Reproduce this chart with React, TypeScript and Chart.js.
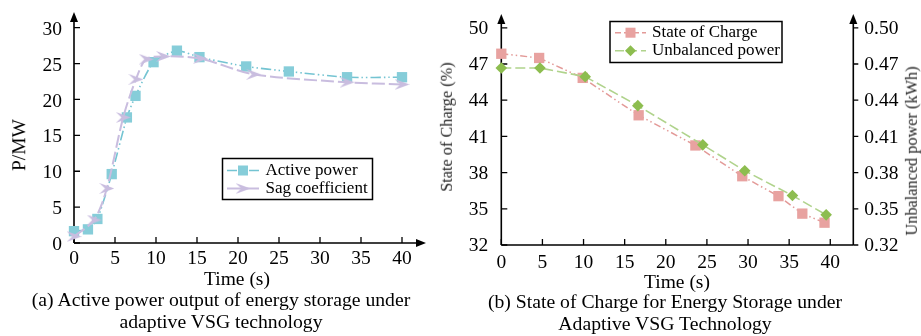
import React, { useEffect, useRef } from "react";
import { Chart, registerables } from "chart.js";

Chart.register(...registerables);

// ---------- data (left chart) ----------
const activeTime = [0, 1.7, 2.85, 4.6, 6.45, 7.5, 9.7, 12.55, 15.3, 21, 26.2, 33.3, 40];
const activePower = [1.65, 1.9, 3.35, 9.6, 17.5, 20.5, 25.2, 26.8, 25.9, 24.6, 23.9, 23.1, 23.1];
const sagTime = [0, 2.45, 4.0, 6.0, 7.55, 8.8, 10.9, 15.4, 21.9, 33.3, 40];
const sagCoef = [0.9, 3.2, 7.6, 17.5, 22.8, 25.6, 26.0, 25.7, 23.5, 22.4, 22.1];
const xTicksA = [0, 5, 10, 15, 20, 25, 30, 35, 40];
const yTicksA = [0, 5, 10, 15, 20, 25, 30];

// ---------- data (right chart) ----------
const socTime = [0, 4.6, 9.9, 16.7, 23.6, 29.3, 33.7, 36.6, 39.3];
const socValue = [47.85, 47.5, 45.85, 42.75, 40.25, 37.7, 36.05, 34.6, 33.85];
const ubTime = [0, 4.7, 10.2, 16.6, 24.5, 29.6, 35.4, 39.5];
const ubValue = [0.4667, 0.4667, 0.4595, 0.4355, 0.403, 0.3815, 0.361, 0.345];
const xTicksB = [0, 5, 10, 15, 20, 25, 30, 35, 40];
const yTicksB = [32, 35, 38, 41, 44, 47, 50];
const y2TicksB = [0.32, 0.35, 0.38, 0.41, 0.44, 0.47, 0.5];

const FONT = '"Liberation Serif", "Times New Roman", Times, serif';

const C_ACTIVE = "#86cdd9";
const C_ACTIVE_LINE = "#74c4d2";
const C_SAG = "#c9bddf";
const C_SOC = "#e8a2a0";
const C_SOC_LINE = "#e39a98";
const C_UB = "#8dbd4f";
const C_UB_LINE = "#b0d38c";

const DASH_ACTIVE = [10, 3, 1.5, 3, 1.5, 3];
const DASH_SAG = [13, 4];
const DASH_SOC = [7, 3, 1.5, 3, 1.5, 3];
const DASH_UB = [10, 4];

function makeArrow(color: string) {
  const w = 15, h = 11;
  const c = document.createElement("canvas");
  c.width = w;
  c.height = h;
  const ctx = c.getContext("2d")!;
  ctx.fillStyle = color;
  ctx.beginPath();
  ctx.moveTo(0, 0);
  ctx.lineTo(w, h / 2);
  ctx.lineTo(0, h);
  ctx.lineTo(w * 0.38, h / 2);
  ctx.closePath();
  ctx.fill();
  return c;
}

function pts(xs: number[], ys: number[]) {
  return xs.map((x, i) => ({ x, y: ys[i] }));
}

function setTicks(vals: number[]) {
  return (s: any) => {
    s.ticks = vals.map((v) => ({ value: v }));
  };
}

function arrowUp(ctx: CanvasRenderingContext2D, x: number, tipY: number) {
  ctx.beginPath();
  ctx.moveTo(x, tipY);
  ctx.lineTo(x - 4, tipY + 10);
  ctx.lineTo(x + 4, tipY + 10);
  ctx.closePath();
  ctx.fill();
}
function arrowRight(ctx: CanvasRenderingContext2D, tipX: number, y: number) {
  ctx.beginPath();
  ctx.moveTo(tipX, y);
  ctx.lineTo(tipX - 10, y - 4);
  ctx.lineTo(tipX - 10, y + 4);
  ctx.closePath();
  ctx.fill();
}

function drawMarker(ctx: CanvasRenderingContext2D, kind: string, x: number, y: number, color: string, img?: HTMLCanvasElement) {
  ctx.save();
  ctx.fillStyle = color;
  ctx.setLineDash([]);
  if (kind === "rect") {
    ctx.fillRect(x - 5, y - 5, 10, 10);
  } else if (kind === "diamond") {
    ctx.beginPath();
    ctx.moveTo(x, y - 5.5);
    ctx.lineTo(x + 5.5, y);
    ctx.lineTo(x, y + 5.5);
    ctx.lineTo(x - 5.5, y);
    ctx.closePath();
    ctx.fill();
  } else if (img) {
    ctx.drawImage(img, x - img.width / 2, y - img.height / 2);
  }
  ctx.restore();
}

type LegendItem = { text: string; line: string; dash: number[]; marker: string; mcolor: string; img?: HTMLCanvasElement; lw: number };

function legendPlugin(id: string, box: { x: number; y: number; w: number; h: number }, rows: number[], sx0: number, sx1: number, tx: number, items: LegendItem[]) {
  return {
    id,
    afterDraw(chart: any) {
      const ctx: CanvasRenderingContext2D = chart.ctx;
      ctx.save();
      ctx.fillStyle = "#fff";
      ctx.fillRect(box.x, box.y, box.w, box.h);
      ctx.strokeStyle = "#000";
      ctx.lineWidth = 1.5;
      ctx.setLineDash([]);
      ctx.strokeRect(box.x, box.y, box.w, box.h);
      items.forEach((it, i) => {
        const y = rows[i];
        ctx.strokeStyle = it.line;
        ctx.lineWidth = it.lw;
        ctx.setLineDash(it.dash);
        ctx.beginPath();
        ctx.moveTo(sx0, y);
        ctx.lineTo(sx1, y);
        ctx.stroke();
        drawMarker(ctx, it.marker, (sx0 + sx1) / 2, y, it.mcolor, it.img);
        ctx.fillStyle = "#000";
        ctx.font = `17px ${FONT}`;
        ctx.textBaseline = "middle";
        ctx.textAlign = "left";
        ctx.fillText(it.text, tx, y);
      });
      ctx.restore();
    },
  };
}

function LeftChart() {
  const ref = useRef<HTMLCanvasElement>(null);
  useEffect(() => {
    const arrowImg = makeArrow(C_SAG);
    const axes = {
      id: "axesA",
      beforeDatasetsDraw(chart: any) {
        const { ctx, chartArea, scales } = chart;
        const { left, bottom } = chartArea;
        ctx.save();
        ctx.strokeStyle = "#000";
        ctx.fillStyle = "#000";
        ctx.lineWidth = 1.6;
        ctx.beginPath();
        ctx.moveTo(left, bottom);
        ctx.lineTo(left, 20);
        ctx.moveTo(left, bottom);
        ctx.lineTo(418, bottom);
        ctx.stroke();
        arrowUp(ctx, left, 12);
        arrowRight(ctx, 426, bottom);
        ctx.lineWidth = 1.3;
        ctx.beginPath();
        yTicksA.forEach((v) => {
          const py = scales.y.getPixelForValue(v);
          ctx.moveTo(left, py);
          ctx.lineTo(left + 6, py);
        });
        xTicksA.forEach((v) => {
          const px = scales.x.getPixelForValue(v);
          ctx.moveTo(px, bottom);
          ctx.lineTo(px, bottom - 6);
        });
        ctx.stroke();
        ctx.restore();
      },
    };
    const legend = legendPlugin(
      "legendA",
      { x: 222.5, y: 158.5, w: 150, h: 41 },
      [170.5, 188.5],
      227,
      259,
      265.5,
      [
        { text: "Active power", line: C_ACTIVE_LINE, dash: DASH_ACTIVE, marker: "rect", mcolor: C_ACTIVE, lw: 1.6 },
        { text: "Sag coefficient", line: C_SAG, dash: [], marker: "img", mcolor: C_SAG, img: arrowImg, lw: 2 },
      ]
    );
    const chart = new Chart(ref.current!, {
      type: "line",
      data: {
        datasets: [
          {
            label: "Sag coefficient",
            data: pts(sagTime, sagCoef),
            borderColor: C_SAG,
            backgroundColor: C_SAG,
            borderWidth: 2,
            borderDash: DASH_SAG,
            pointStyle: arrowImg as any,
            pointRadius: 6,
            tension: 0.3,
            clip: false as any,
          },
          {
            label: "Active power",
            data: pts(activeTime, activePower),
            borderColor: C_ACTIVE_LINE,
            backgroundColor: C_ACTIVE,
            borderWidth: 1.6,
            borderDash: DASH_ACTIVE,
            pointStyle: "rect",
            pointRadius: 7.3,
            pointBorderWidth: 0,
            tension: 0.2,
            clip: false as any,
          },
        ],
      },
      options: {
        animation: false,
        responsive: false,
        events: [],
        layout: { padding: { top: 27.7, right: 58, bottom: 63, left: 0 } },
        plugins: { legend: { display: false }, tooltip: { enabled: false } },
        scales: {
          x: {
            type: "linear",
            min: 0,
            max: 40,
            afterBuildTicks: setTicks(xTicksA),
            afterFit: (s: any) => {
              s.height = 30;
            },
            grid: { display: false, drawTicks: false },
            border: { display: false },
            ticks: { padding: 4, color: "#000", font: { family: FONT, size: 19.5 }, maxRotation: 0, autoSkip: false },
          },
          y: {
            type: "linear",
            min: 0,
            max: 30,
            afterBuildTicks: setTicks(yTicksA),
            afterFit: (s: any) => {
              s.width = 74;
            },
            grid: { display: false, drawTicks: false },
            border: { display: false },
            ticks: { padding: 12, labelOffset: 2, color: "#000", font: { family: FONT, size: 19.5 }, autoSkip: false },
          },
        },
      },
      plugins: [axes, legend],
    });
    return () => chart.destroy();
  }, []);
  return <canvas ref={ref} width={460} height={336} style={{ position: "absolute", left: 0, top: 0 }} />;
}

function RightChart() {
  const ref = useRef<HTMLCanvasElement>(null);
  useEffect(() => {
    const axes = {
      id: "axesB",
      beforeDatasetsDraw(chart: any) {
        const { ctx, chartArea, scales } = chart;
        const { left, right, bottom } = chartArea;
        ctx.save();
        ctx.strokeStyle = "#000";
        ctx.fillStyle = "#000";
        ctx.lineWidth = 1.6;
        ctx.beginPath();
        ctx.moveTo(left, bottom);
        ctx.lineTo(left, 22);
        ctx.moveTo(right, bottom);
        ctx.lineTo(right, 22);
        ctx.moveTo(left, bottom);
        ctx.lineTo(right, bottom);
        ctx.stroke();
        arrowUp(ctx, left, 14);
        arrowUp(ctx, right, 14);
        ctx.lineWidth = 1.3;
        ctx.beginPath();
        yTicksB.forEach((v) => {
          const py = scales.y.getPixelForValue(v);
          ctx.moveTo(left, py);
          ctx.lineTo(left + 6, py);
        });
        y2TicksB.forEach((v) => {
          const py = scales.y2.getPixelForValue(v);
          ctx.moveTo(right, py);
          ctx.lineTo(right + 5, py);
        });
        xTicksB.forEach((v) => {
          const px = scales.x.getPixelForValue(v);
          ctx.moveTo(px, bottom);
          ctx.lineTo(px, bottom - 6);
        });
        ctx.stroke();
        ctx.restore();
      },
    };
    const legend = legendPlugin(
      "legendB",
      { x: 150, y: 21.5, w: 172, h: 41 },
      [32.7, 50.7],
      155,
      186,
      192,
      [
        { text: "State of Charge", line: C_SOC_LINE, dash: [6, 3], marker: "rect", mcolor: C_SOC, lw: 1.5 },
        { text: "Unbalanced power", line: C_UB_LINE, dash: [9, 4], marker: "diamond", mcolor: C_UB, lw: 1.5 },
      ]
    );
    const chart = new Chart(ref.current!, {
      type: "line",
      data: {
        datasets: [
          {
            label: "Unbalanced power",
            data: pts(ubTime, ubValue),
            yAxisID: "y2",
            borderColor: C_UB_LINE,
            backgroundColor: C_UB,
            borderWidth: 1.6,
            borderDash: DASH_UB,
            pointStyle: "rectRot",
            pointRadius: 5.8,
            pointBorderWidth: 0,
            tension: 0,
            clip: false as any,
          },
          {
            label: "State of Charge",
            data: pts(socTime, socValue),
            yAxisID: "y",
            borderColor: C_SOC_LINE,
            backgroundColor: C_SOC,
            borderWidth: 1.5,
            borderDash: DASH_SOC,
            pointStyle: "rect",
            pointRadius: 7.3,
            pointBorderWidth: 0,
            tension: 0,
            clip: false as any,
          },
        ],
      },
      options: {
        animation: false,
        responsive: false,
        events: [],
        layout: { padding: { top: 27.8, right: 0, bottom: 61, left: 0 } },
        plugins: { legend: { display: false }, tooltip: { enabled: false } },
        scales: {
          x: {
            type: "linear",
            min: 0,
            max: 42.8,
            afterBuildTicks: setTicks(xTicksB),
            afterFit: (s: any) => {
              s.height = 30;
            },
            grid: { display: false, drawTicks: false },
            border: { display: false },
            ticks: { padding: 6, color: "#000", font: { family: FONT, size: 19.5 }, maxRotation: 0, autoSkip: false },
          },
          y: {
            type: "linear",
            position: "left",
            min: 32,
            max: 50,
            afterBuildTicks: setTicks(yTicksB),
            afterFit: (s: any) => {
              s.width = 41.3;
            },
            grid: { display: false, drawTicks: false },
            border: { display: false },
            ticks: { padding: 13, labelOffset: 1, color: "#000", font: { family: FONT, size: 19.5 }, autoSkip: false },
          },
          y2: {
            type: "linear",
            position: "right",
            min: 0.32,
            max: 0.5,
            afterBuildTicks: setTicks(y2TicksB),
            afterFit: (s: any) => {
              s.width = 67.7;
            },
            grid: { display: false, drawTicks: false },
            border: { display: false },
            ticks: {
              padding: 11,
              labelOffset: 1,
              color: "#000",
              font: { family: FONT, size: 19.5 },
              autoSkip: false,
              callback: (v: any) => Number(v).toFixed(2),
            },
          },
        },
      },
      plugins: [axes, legend],
    });
    return () => chart.destroy();
  }, []);
  return <canvas ref={ref} width={461} height={336} style={{ position: "absolute", left: 460, top: 0 }} />;
}

const txt = (cx: number, cy: number, text: string, size: number, rotate = false, color = "#000"): React.ReactElement => (
  <div
    style={{
      position: "absolute",
      left: cx,
      top: cy,
      transform: `translate(-50%, -50%)${rotate ? " rotate(-90deg)" : ""}`,
      whiteSpace: "nowrap",
      fontFamily: FONT,
      fontSize: size,
      lineHeight: 1,
      color,
    }}
  >
    {text}
  </div>
);

export default function App() {
  return (
    <div style={{ position: "absolute", left: 0, top: 0, width: 921, height: 336, background: "#fff", overflow: "hidden" }}>
      <LeftChart />
      <RightChart />
      {txt(19, 145, "P/MW", 19.5, true)}
      {txt(237, 279, "Time (s)", 19.5)}
      {txt(221, 300, "(a) Active power output of energy storage under", 19.7)}
      {txt(221, 322, "adaptive VSG technology", 19.7)}
      {txt(447, 127, "State of Charge (%)", 16.3, true, "#222")}
      {txt(912, 151, "Unbalanced power (kWh)", 16.3, true, "#222")}
      {txt(677, 282, "Time (s)", 19.5)}
      {txt(665, 302, "(b) State of Charge for Energy Storage under", 19.7)}
      {txt(665, 324, "Adaptive VSG Technology", 19.7)}
    </div>
  );
}
